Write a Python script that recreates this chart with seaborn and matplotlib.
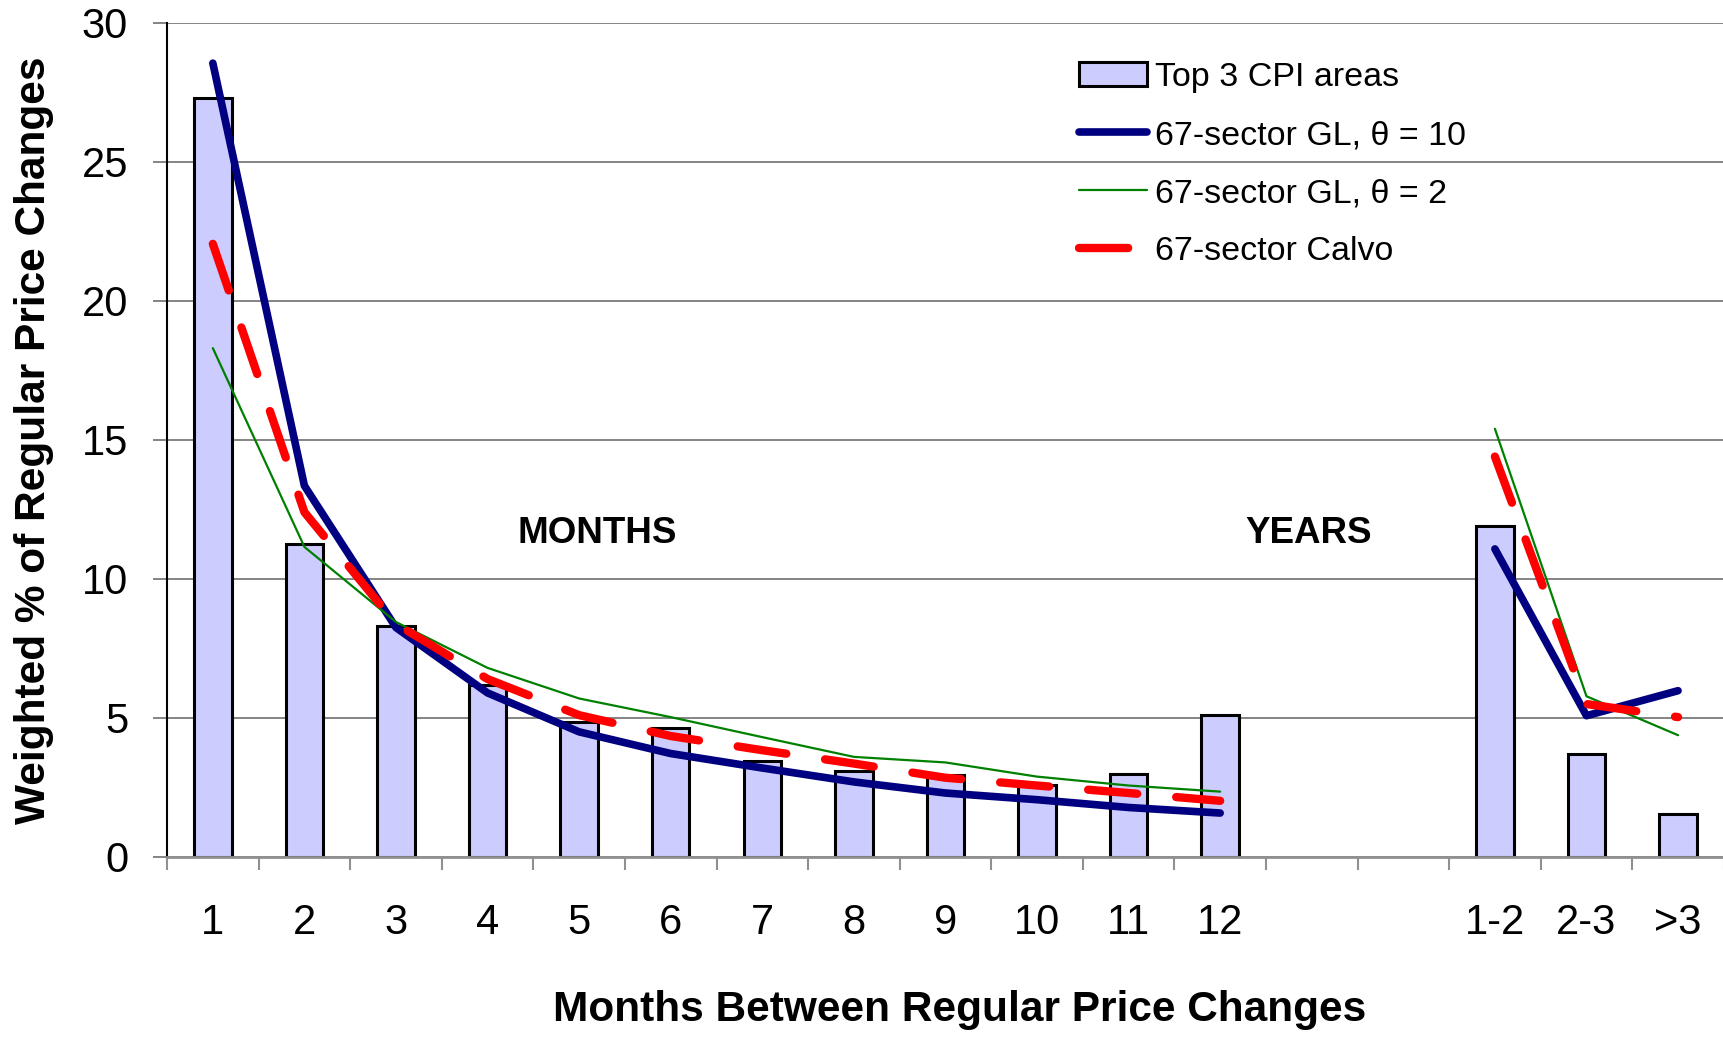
import numpy as np
import pandas as pd
import matplotlib.pyplot as plt
import seaborn as sns
from matplotlib.patches import Patch
from matplotlib.lines import Line2D

# Datos (huecos entre 12 meses y los años)
categorias = ['1', '2', '3', '4', '5', '6', '7', '8', '9', '10', '11', '12',
              '', ' ', '1-2', '2-3', '>3']
top3_cpi = [27.3, 11.25, 8.3, 6.2, 4.85, 4.65, 3.45, 3.1, 2.95, 2.6, 3.0, 5.1,
            np.nan, np.nan, 11.9, 3.7, 1.55]
gl_theta10 = [28.55, 13.35, 8.25, 5.9, 4.5, 3.72, 3.2, 2.7, 2.3, 2.06, 1.78, 1.58,
              np.nan, np.nan, 11.08, 5.08, 5.98]
gl_theta2 = [18.3, 11.15, 8.45, 6.8, 5.7, 5.03, 4.31, 3.6, 3.4, 2.89, 2.57, 2.35,
             np.nan, np.nan, 15.4, 5.78, 4.38]
calvo = [22.05, 12.4, 8.38, 6.4, 5.1, 4.35, 3.84, 3.36, 2.85, 2.57, 2.3, 2.02,
         np.nan, np.nan, 14.4, 5.5, 5.03]

df = pd.DataFrame({'cat': categorias, 'top3': top3_cpi})
pos = np.arange(len(categorias))

sns.set_style('white')
plt.rcParams['font.family'] = ['Liberation Sans', 'DejaVu Sans']
for k in ['text.color', 'axes.labelcolor', 'xtick.labelcolor', 'ytick.labelcolor']:
    plt.rcParams[k] = 'black'

fig = plt.figure(figsize=(17.24, 10.37), dpi=100)
ax = fig.add_axes([0.0969, 0.1736, 0.903, 0.8044])

sns.barplot(data=df, x='cat', y='top3', order=categorias, color='#CCCCFF',
            saturation=1, edgecolor='black', linewidth=2.2, width=0.41, ax=ax,
            errorbar=None)

ax.plot(pos, gl_theta10, color='#000080', lw=5.5, solid_capstyle='round', zorder=4)
ax.plot(pos, gl_theta2, color='#008000', lw=1.6, zorder=4)
ax.plot(pos, calvo, color='#FF0000', lw=6, dashes=(5.9, 4.7),
        dash_capstyle='round', zorder=5)

ax.set_xlim(-0.5, 16.5)
ax.set_ylim(0, 30)
ax.set_yticks(range(0, 31, 5))
ax.yaxis.grid(True, color='#707070', lw=1.2)
ax.set_axisbelow(True)

for s in ['top', 'right']:
    ax.spines[s].set_visible(False)
ax.spines['left'].set_color('black')
ax.spines['left'].set_linewidth(1.5)
ax.spines['bottom'].set_color('#909090')
ax.spines['bottom'].set_linewidth(2)

ax.tick_params(axis='y', direction='out', length=10, width=1.2, color='#707070',
               labelsize=30, pad=18, left=True)
ax.set_xticks(pos)
ax.set_xticklabels(categorias)
ax.tick_params(axis='x', which='major', length=0, labelsize=30, pad=33)
ax.set_xticks(np.arange(-0.5, 17, 1), minor=True)
ax.tick_params(axis='x', which='minor', direction='out', length=9, width=1.5,
               color='#909090', bottom=True)

ax.set_xlabel('Months Between Regular Price Changes', fontsize=30.5,
              fontweight='bold')
ax.xaxis.set_label_coords(0.509, -0.160)
ax.set_ylabel('Weighted % of Regular Price Changes', fontsize=30.5,
              fontweight='bold', labelpad=20)

ax.text(4.2, 11.65, 'MONTHS', fontsize=26.5, fontweight='bold', ha='center', va='center')
ax.text(11.97, 11.65, 'YEARS', fontsize=26.5, fontweight='bold', ha='center', va='center')

handles = [
    Patch(facecolor='#CCCCFF', edgecolor='black', linewidth=2.2),
    Line2D([], [], color='#000080', lw=5.5, solid_capstyle='round'),
    Line2D([], [], color='#008000', lw=1.6),
    Line2D([], [], color='#FF0000', lw=6, dashes=(5.9, 4.7), dash_capstyle='round'),
]
labels = ['Top 3 CPI areas', '67-sector GL, θ = 10', '67-sector GL, θ = 2',
          '67-sector Calvo']
ax.legend(handles, labels, loc='upper left', bbox_to_anchor=(0.577, 0.969),
          frameon=False, fontsize=24.5, handlelength=2.0, handletextpad=0.25,
          labelspacing=0.79, borderaxespad=0)

fig.savefig('out.png', dpi=100)
